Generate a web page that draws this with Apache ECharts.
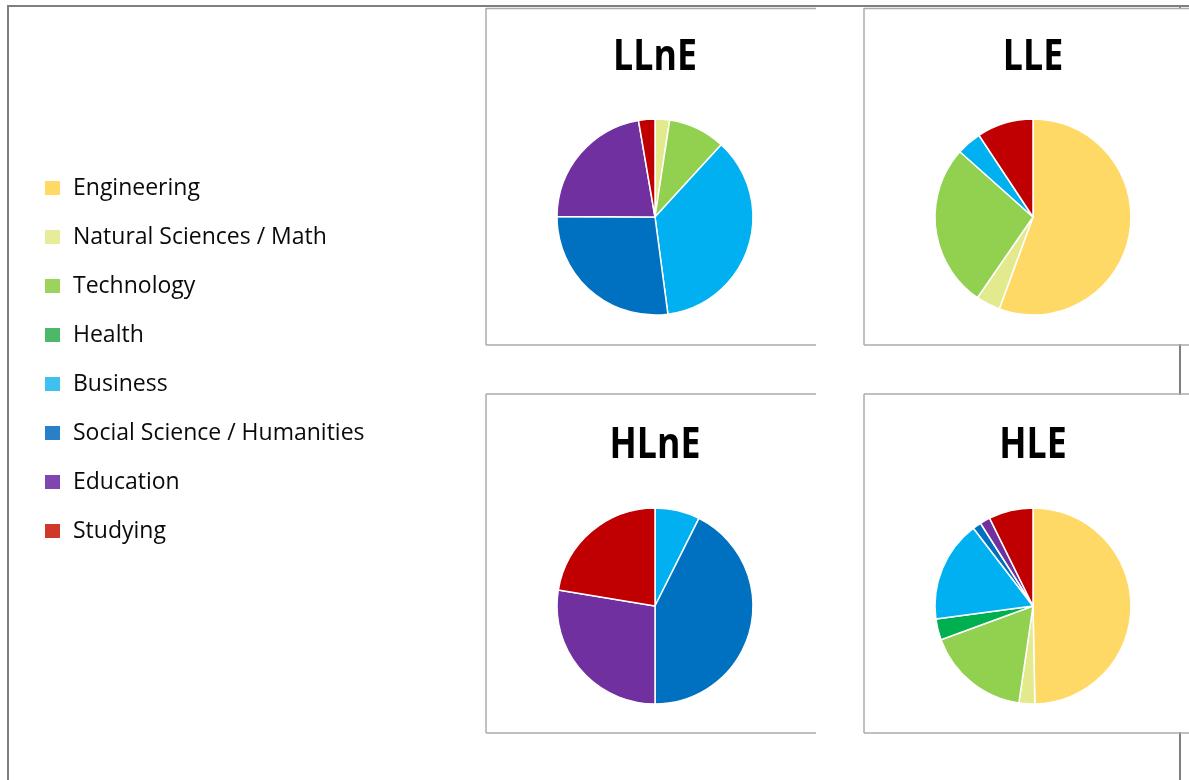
<!DOCTYPE html>
<html>
<head>
<meta charset="utf-8">
<style>
html,body{margin:0;padding:0;background:#fff;}
#main{width:1189px;height:780px;}
</style>
<script src="https://cdn.jsdelivr.net/npm/echarts@6/dist/echarts.min.js"></script>
</head>
<body>
<div id="main"></div>
<script>
// ---- data ----
const categories = ['Engineering', 'Natural Sciences / Math', 'Technology', 'Health', 'Business', 'Social Science / Humanities', 'Education', 'Studying'];
const pieColors = ['#FFD966', '#E3EA8E', '#92D050', '#00B050', '#00B0F0', '#0070C0', '#7030A0', '#C00000'];
const legendColors = ['#FFD966', '#E6EC9A', '#9CD35C', '#4DB868', '#3EC0F0', '#2A80C8', '#8046B0', '#D0392A'];
const chartTitles = ['LLnE', 'LLE', 'HLnE', 'HLE'];
// percentages per group, in category order
const valuesLLnE = [0, 2.4, 9.4, 0, 36.1, 27.2, 22.2, 2.7];
const valuesLLE  = [55.6, 4.0, 27.0, 0, 4.1, 0, 0, 9.3];
const valuesHLnE = [0, 0, 0, 0, 7.4, 42.6, 27.6, 22.4];
const valuesHLE  = [49.7, 2.6, 17.1, 3.5, 16.7, 1.4, 1.7, 7.3];

const allValues = [valuesLLnE, valuesLLE, valuesHLnE, valuesHLE];
const centers = [[655, 217], [1033, 217], [655, 606], [1033, 606]];
const titleY = [58, 58, 446, 446];

const chart = echarts.init(document.getElementById('main'), null, {renderer: 'canvas'});

const series = allValues.map((vals, i) => ({
  type: 'pie',
  name: chartTitles[i],
  center: centers[i],
  radius: [0, 98],
  startAngle: 90,
  clockwise: true,
  z: 5,
  label: {show: false},
  labelLine: {show: false},
  emphasis: {disabled: true},
  animation: false,
  itemStyle: {borderColor: '#ffffff', borderWidth: 1.5},
  data: categories.map((c, k) => ({name: c, value: vals[k], itemStyle: {color: pieColors[k]}}))
                  .filter(d => d.value > 0)
}));

const outer = '#7F7F7F';
const panel = '#ABABAB';
function line(x1, y1, x2, y2, color, w, z) {
  return {type: 'line', silent: true, z: z, shape: {x1, y1, x2, y2}, style: {stroke: color, lineWidth: w}};
}
const graphics = [
  // table border (underneath panels)
  line(7, 6, 1189, 6, outer, 2, 1),
  line(8, 5, 8, 780, outer, 2, 1),
  line(1180, 5, 1180, 780, outer, 2, 1),
  // white panel backgrounds covering table border
  {type: 'rect', silent: true, z: 2, shape: {x: 865, y: 9, width: 330, height: 335}, style: {fill: '#fff'}},
  {type: 'rect', silent: true, z: 2, shape: {x: 865, y: 395, width: 330, height: 337}, style: {fill: '#fff'}},
  // LLnE panel
  line(486, 8, 486, 345, panel, 1.5, 3),
  line(486, 8.5, 816, 8.5, panel, 1.5, 3),
  line(486, 345, 816, 345, panel, 1.5, 3),
  // LLE panel
  line(864, 8, 864, 345, panel, 1.5, 3),
  line(864, 8.5, 1189, 8.5, panel, 1.5, 3),
  line(864, 345, 1189, 345, panel, 1.5, 3),
  // HLnE panel
  line(486, 394, 486, 733, panel, 1.5, 3),
  line(486, 394, 816, 394, panel, 1.5, 3),
  line(486, 733, 816, 733, panel, 1.5, 3),
  // HLE panel
  line(864, 394, 864, 733, panel, 1.5, 3),
  line(864, 394, 1189, 394, panel, 1.5, 3),
  line(864, 733, 1189, 733, panel, 1.5, 3)
];
// chart titles as real text, horizontally condensed
chartTitles.forEach((t, i) => {
  graphics.push({
    type: 'text', silent: true, z: 4,
    x: centers[i][0], y: titleY[i],
    scaleX: 0.83,
    style: {
      text: t, x: 0, y: 0, align: 'center', verticalAlign: 'middle',
      fontFamily: '"Open Sans", sans-serif', fontWeight: 'bold', fontSize: 43, fill: '#000'
    }
  });
});

chart.setOption({
  backgroundColor: '#ffffff',
  animation: false,
  legend: {
    orient: 'vertical',
    left: 43,
    top: 176,
    padding: 0,
    itemWidth: 17,
    itemHeight: 16,
    itemGap: 25,
    icon: 'rect',
    selectedMode: false,
    textStyle: {fontFamily: '"Open Sans", sans-serif', fontSize: 23, color: '#0a0a0a', lineHeight: 24, padding: [0, 0, 0, 7]},
    data: categories.map((c, k) => ({name: c, itemStyle: {color: legendColors[k]}}))
  },
  graphic: graphics,
  series: series
});
</script>
</body>
</html>
